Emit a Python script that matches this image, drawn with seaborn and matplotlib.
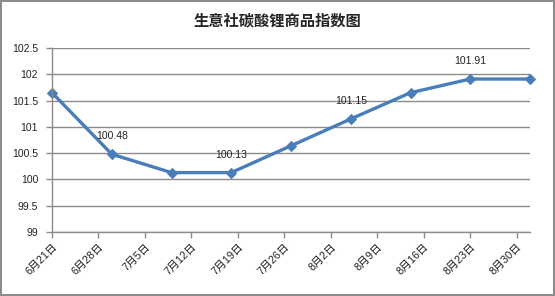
import matplotlib
matplotlib.use("Agg")
import matplotlib.pyplot as plt
import seaborn as sns
import pandas as pd
import matplotlib.dates as mdates

# Data
dates = ["2023-06-21", "2023-06-30", "2023-07-09", "2023-07-18", "2023-07-27",
         "2023-08-05", "2023-08-14", "2023-08-23", "2023-09-01"]
values = [101.65, 100.48, 100.13, 100.13, 100.64, 101.15, 101.65, 101.91, 101.91]
labeled_idx = [1, 3, 5, 7]
tick_dates = ["2023-06-21", "2023-06-28", "2023-07-05", "2023-07-12", "2023-07-19",
              "2023-07-26", "2023-08-02", "2023-08-09", "2023-08-16", "2023-08-23",
              "2023-08-30"]
tick_labels = ["6月21日", "6月28日", "7月5日", "7月12日", "7月19日", "7月26日",
               "8月2日", "8月9日", "8月16日", "8月23日", "8月30日"]
y_ticks = [99, 99.5, 100, 100.5, 101, 101.5, 102, 102.5]
y_labels = ["99", "99.5", "100", "100.5", "101", "101.5", "102", "102.5"]
title = "生意社碳酸锂商品指数图"

sns.set_theme(style="white")
plt.rcParams['font.family'] = ['Liberation Sans', 'Noto Sans CJK SC', 'DejaVu Sans']

df = pd.DataFrame({"date": pd.to_datetime(dates), "value": values})

fig = plt.figure(figsize=(5.55, 2.96), dpi=100, edgecolor="#8c8c8c", linewidth=1.5)
ax = fig.add_axes([52/555, 1-232/296, (530-52)/555, (232-48)/296])

line_color = "#4A7EBB"
sns.lineplot(data=df, x="date", y="value", ax=ax, color=line_color, linewidth=2.4,
             marker="D", markersize=5, markeredgecolor=line_color, markerfacecolor=line_color)
for ln in ax.lines:
    ln.set_clip_on(False)

ax.set_xlim(pd.Timestamp("2023-06-21"), pd.Timestamp("2023-09-01"))
ax.set_ylim(99, 102.5)
ax.set_yticks(y_ticks)
ax.set_yticklabels(y_labels, fontsize=7.5, color="#222222")
ax.set_xticks(pd.to_datetime(tick_dates))
ax.set_xticklabels(tick_labels, rotation=45, ha="right", rotation_mode="anchor",
                   fontsize=7.8, color="#222222")
ax.set_xlabel("")
ax.set_ylabel("")

ax.grid(axis="y", color="#8c8c8c", linewidth=1)
ax.grid(axis="x", visible=False)
for s in ["top", "right"]:
    ax.spines[s].set_visible(False)
for s in ["left", "bottom"]:
    ax.spines[s].set_color("#8c8c8c")
    ax.spines[s].set_linewidth(1)
ax.tick_params(axis="both", which="major", length=4, width=1, color="#8c8c8c",
               direction="out", bottom=True, left=True, pad=3)
ax.tick_params(axis="y", pad=6)

for i in labeled_idx:
    ax.annotate(f"{values[i]:.2f}", (df["date"][i], values[i]), xytext=(0, 13),
                textcoords="offset points", ha="center", va="center",
                fontsize=7.5, color="#222222")

fig.text(0.5, 1-20/296, title, ha="center", va="center", fontsize=11,
         fontweight="bold", family=['Noto Sans CJK SC', 'DejaVu Sans'])

fig.savefig("out.png", dpi=100, edgecolor=fig.get_edgecolor())
